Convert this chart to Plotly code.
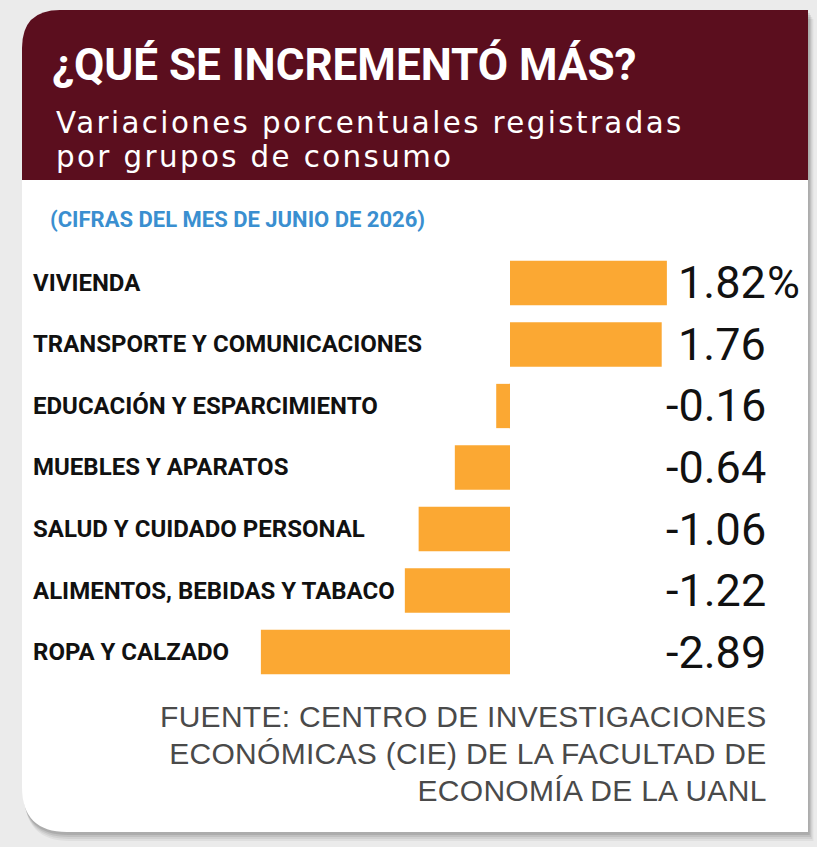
import plotly.graph_objects as go

# ---- data ----
categories = [
    "VIVIENDA",
    "TRANSPORTE Y COMUNICACIONES",
    "EDUCACIÓN Y ESPARCIMIENTO",
    "MUEBLES Y APARATOS",
    "SALUD Y CUIDADO PERSONAL",
    "ALIMENTOS, BEBIDAS Y TABACO",
    "ROPA Y CALZADO",
]
values = [1.82, 1.76, -0.16, -0.64, -1.06, -1.22, -2.89]
value_labels = ["1.82", "1.76", "-0.16", "-0.64", "-1.06", "-1.22", "-2.89"]

title = "¿QUÉ SE INCREMENTÓ MÁS?"
subtitle_lines = ["Variaciones porcentuales registradas", "por grupos de consumo"]
period_note = "(CIFRAS DEL MES DE JUNIO DE 2026)"
source_lines = [
    "FUENTE: CENTRO DE INVESTIGACIONES",
    "ECONÓMICAS (CIE) DE LA FACULTAD DE",
    "ECONOMÍA DE LA UANL",
]

W, H = 817, 847
MAROON = "#5b0e1e"
ORANGE = "#fba833"
BLUE = "#3a8fd0"
COND = "Roboto, Liberation Sans Narrow, sans-serif"
BODY = "Liberation Sans, Arial, sans-serif"
WIDE = "DejaVu Sans, Verdana, sans-serif"


def px(x):
    return x / W


def py(y):
    return 1 - y / H


def multiline(lines, glyph_size, spacing):
    # glyphs drawn at glyph_size; line pitch governed by the annotation's base font size
    return "<br>".join(
        f'<span style="font-size:{glyph_size}px;letter-spacing:{spacing}px">{t}</span>' for t in lines
    )


# axis geometry (pixel layout)
zero_px, unit_px = 510.0, 86.2
dom_l, dom_r = 250.0, 700.0
row0, row_step = 283.0, 61.5
n = len(categories)
top_px = row0 - row_step / 2
bot_px = row0 + (n - 0.5) * row_step

fig = go.Figure()
fig.add_trace(go.Bar(
    x=values, y=categories, orientation="h",
    marker=dict(color=ORANGE, line=dict(width=0)),
    width=0.72, hoverinfo="skip", showlegend=False,
))


def rounded_path(x0, y0, x1, y1, r_tl, r_bl):
    pts = [f"M {px(x0 + r_tl)} {py(y0)}", f"L {px(x1)} {py(y0)}", f"L {px(x1)} {py(y1)}"]
    if r_bl > 0:
        pts.append(f"L {px(x0 + r_bl)} {py(y1)}")
        pts.append(f"Q {px(x0)} {py(y1)} {px(x0)} {py(y1 - r_bl)}")
    else:
        pts.append(f"L {px(x0)} {py(y1)}")
    pts.append(f"L {px(x0)} {py(y0 + r_tl)}")
    pts.append(f"Q {px(x0)} {py(y0)} {px(x0 + r_tl)} {py(y0)}")
    pts.append("Z")
    return " ".join(pts)


shapes = []
for off, op in [(9, 0.05), (7, 0.06), (5, 0.08), (3, 0.10)]:
    shapes.append(dict(type="path", xref="paper", yref="paper",
                       path=rounded_path(22 + off * 0.3, 10 + off, 808 + off * 0.6, 832 + off, 38, 45),
                       fillcolor=f"rgba(0,0,0,{op})", line=dict(width=0), layer="below"))
shapes.append(dict(type="path", xref="paper", yref="paper",
                   path=rounded_path(22, 10, 808, 832, 38, 45),
                   fillcolor="white", line=dict(width=0), layer="below"))
shapes.append(dict(type="path", xref="paper", yref="paper",
                   path=rounded_path(22, 10, 808, 180, 38, 0),
                   fillcolor=MAROON, line=dict(width=0), layer="below"))

annotations = []
annotations.append(dict(text=title, x=px(50), y=py(65), xref="paper", yref="paper",
                        xanchor="left", yanchor="middle", showarrow=False,
                        font=dict(family=COND, size=44, color="white", weight="bold")))
annotations.append(dict(text=multiline(subtitle_lines, 29.3, 2.4), x=px(54), y=py(140),
                        xref="paper", yref="paper", xanchor="left", yanchor="middle",
                        align="left", showarrow=False,
                        font=dict(family=WIDE, size=26.5, color="white")))
annotations.append(dict(text=period_note, x=px(48), y=py(220), xref="paper", yref="paper",
                        xanchor="left", yanchor="middle", showarrow=False,
                        font=dict(family=COND, size=22, color=BLUE, weight="bold")))
for cat in categories:
    annotations.append(dict(text=cat, x=px(31), y=cat, xref="paper", yref="y",
                            xanchor="left", yanchor="middle", showarrow=False,
                            font=dict(family=COND, size=24, color="#111111", weight="bold")))
for cat, lab in zip(categories, value_labels):
    annotations.append(dict(text=lab, x=px(768), y=cat, xref="paper", yref="y",
                            xanchor="right", yanchor="middle", showarrow=False,
                            font=dict(family=COND, size=45, color="#111111")))
annotations.append(dict(text="%", x=px(765), y=categories[0], xref="paper", yref="y",
                        xanchor="left", yanchor="middle", showarrow=False,
                        font=dict(family=COND, size=45, color="#111111")))
annotations.append(dict(text=multiline(source_lines, 30, 0.3), x=px(769), y=py(753),
                        xref="paper", yref="paper", xanchor="right", yanchor="middle",
                        align="right", showarrow=False,
                        font=dict(family=BODY, size=28.5, color="#4a4a4a")))

fig.update_layout(
    width=W, height=H,
    margin=dict(l=0, r=0, t=0, b=0),
    paper_bgcolor="#ebebeb", plot_bgcolor="rgba(0,0,0,0)",
    xaxis=dict(domain=[px(dom_l), px(dom_r)],
               range=[(dom_l - zero_px) / unit_px, (dom_r - zero_px) / unit_px],
               visible=False, fixedrange=True),
    yaxis=dict(domain=[py(bot_px), py(top_px)], autorange="reversed",
               categoryorder="array", categoryarray=categories,
               visible=False, fixedrange=True),
    shapes=shapes, annotations=annotations,
)

fig.write_html("out.html")
